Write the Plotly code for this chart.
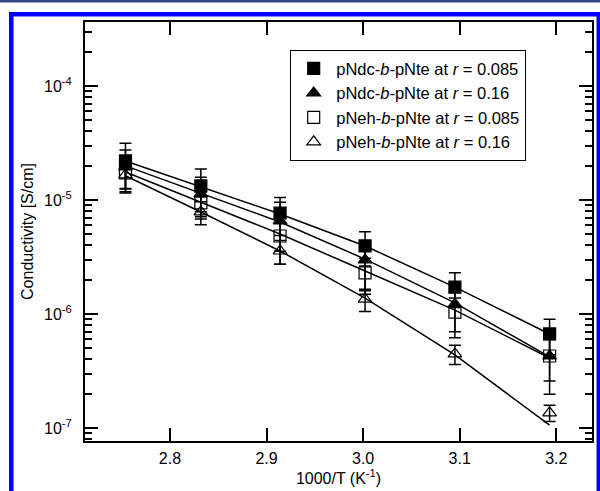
import plotly.graph_objects as go

# 1000/T (K^-1) for 90, 80, 70, 60, 50, 40 °C
inv_T = [2.754, 2.832, 2.914, 3.002, 3.095, 3.193]

names = [
    "pNdc-<i>b</i>-pNte at <i>r</i> = 0.085",
    "pNdc-<i>b</i>-pNte at <i>r</i> = 0.16",
    "pNeh-<i>b</i>-pNte at <i>r</i> = 0.085",
    "pNeh-<i>b</i>-pNte at <i>r</i> = 0.16",
]

sigma_ndc_085 = [2.20e-5, 1.33e-5, 7.69e-6, 3.95e-6, 1.72e-6, 6.68e-7]
sigma_ndc_016 = [1.95e-5, 1.13e-5, 6.55e-6, 2.98e-6, 1.22e-6, 4.28e-7]
sigma_neh_085 = [1.73e-5, 9.42e-6, 4.83e-6, 2.29e-6, 1.04e-6, 4.28e-7]
sigma_neh_016 = [1.66e-5, 7.85e-6, 3.57e-6, 1.35e-6, 4.46e-7, 1.36e-7]

err_ndc_085 = [0.95e-5, 0.54e-5, 2.8e-6, 1.32e-6, 0.58e-6, 0.23e-6]
err_ndc_016 = [0.80e-5, 0.45e-5, 3.0e-6, 1.38e-6, 0.60e-6, 0.23e-6]
err_neh_085 = [0.55e-5, 2.3e-6, 2.1e-6, 0.80e-6, 0.34e-6, 0.17e-6]
err_neh_016 = [0.40e-5, 1.8e-6, 0.84e-6, 0.30e-6, 0.85e-7, 0.22e-7]

fit_ndc_085 = [2.20e-5, 1.30e-5, 7.54e-6, 3.95e-6, 1.72e-6, 6.68e-7]
fit_ndc_016 = [1.99e-5, 1.15e-5, 6.41e-6, 3.03e-6, 1.25e-6, 4.20e-7]
fit_neh_085 = [1.76e-5, 9.60e-6, 5.03e-6, 2.38e-6, 1.08e-6, 4.11e-7]
fit_neh_016 = [1.63e-5, 7.85e-6, 3.57e-6, 1.38e-6, 4.37e-7, 1.06e-7]

y_tickvals = [1e-7, 1e-6, 1e-5, 1e-4]
y_ticktext = ["10<sup>-7</sup>", "10<sup>-6</sup>", "10<sup>-5</sup>", "10<sup>-4</sup>"]
x_tickvals = [2.8, 2.9, 3.0, 3.1, 3.2]
x_ticktext = ["2.8", "2.9", "3.0", "3.1", "3.2"]

sigmas = [sigma_ndc_085, sigma_ndc_016, sigma_neh_085, sigma_neh_016]
errs = [err_ndc_085, err_ndc_016, err_neh_085, err_neh_016]
fits = [fit_ndc_085, fit_ndc_016, fit_neh_085, fit_neh_016]
symbols = ["square", "triangle-up", "square-open", "triangle-up-open"]

FONT = "Arial, Liberation Sans, sans-serif"

fig = go.Figure()

for f in fits:
    fig.add_trace(go.Scatter(x=inv_T, y=f, mode="lines",
                             line=dict(color="black", width=1.5),
                             showlegend=False, hoverinfo="skip"))

for name, s, e, sym in zip(names, sigmas, errs, symbols):
    fig.add_trace(go.Scatter(
        x=inv_T, y=s, mode="markers", name=name,
        marker=dict(symbol=sym, size=12, color="black",
                    line=dict(color="black", width=1.2)),
        error_y=dict(type="data", array=e, visible=True,
                     color="black", thickness=1.5, width=6),
    ))

# plot area pixel geometry
L, R, T, B = 85, 592, 22, 441
W, H = 600, 491
pw, ph = R - L, B - T


def px(x):
    return (x - L) / pw


def py(y):
    return (B - y) / ph


shapes = [
    dict(type="rect", xref="paper", yref="paper", x0=px(0), x1=px(600),
         y0=py(0), y1=py(2.5), fillcolor="#34478a", line=dict(width=0), layer="above"),
    dict(type="rect", xref="paper", yref="paper", x0=px(9), x1=px(600),
         y0=py(12), y1=py(16.5), fillcolor="#0000ff", line=dict(width=0), layer="above"),
    dict(type="rect", xref="paper", yref="paper", x0=px(9), x1=px(13.5),
         y0=py(12), y1=py(491), fillcolor="#0000ff", line=dict(width=0), layer="above"),
    dict(type="rect", xref="paper", yref="paper", x0=px(596.5), x1=px(600),
         y0=py(12), y1=py(491), fillcolor="#0000ff", line=dict(width=0), layer="above"),
]

fig.update_layout(
    width=W, height=H,
    margin=dict(l=L, r=W - R, t=T, b=H - B, autoexpand=False),
    paper_bgcolor="white", plot_bgcolor="white",
    font=dict(family=FONT, size=16, color="black"),
    shapes=shapes,
    showlegend=True,
    legend=dict(x=px(290), y=py(50), xanchor="left", yanchor="top",
                bordercolor="black", borderwidth=1.2, bgcolor="white",
                font=dict(family=FONT, size=16.5, color="black"),
                itemwidth=35, tracegroupgap=0),
    xaxis=dict(range=[2.7121, 3.2369], tickvals=x_tickvals, ticktext=x_ticktext,
               ticks="inside", ticklen=13, tickwidth=1.5, tickcolor="black",
               showline=True, linecolor="black", linewidth=2, mirror="allticks",
               showgrid=False, zeroline=False, automargin=False,
               ticklabelstandoff=2,
               title=dict(text="1000/T (K<sup>-1</sup>)", font=dict(size=16), standoff=2),
               tickfont=dict(size=16)),
    yaxis=dict(type="log", range=[-7.114, -3.439], tickvals=y_tickvals, ticktext=y_ticktext,
               ticks="inside", ticklen=13, tickwidth=1.5, tickcolor="black",
               showline=True, linecolor="black", linewidth=2, mirror="allticks",
               showgrid=False, zeroline=False, automargin=False,
               ticklabelstandoff=8,
               minor=dict(ticks="inside", ticklen=7, tickwidth=1.5, tickcolor="black",
                          dtick="D1", showgrid=False),
               title=dict(text="Conductivity [S/cm]", font=dict(size=16), standoff=6),
               tickfont=dict(size=16)),
)

fig.write_html("out.html",
               config={"displayModeBar": False},
               post_script="document.body.style.margin='0';document.body.style.overflow='hidden';")
